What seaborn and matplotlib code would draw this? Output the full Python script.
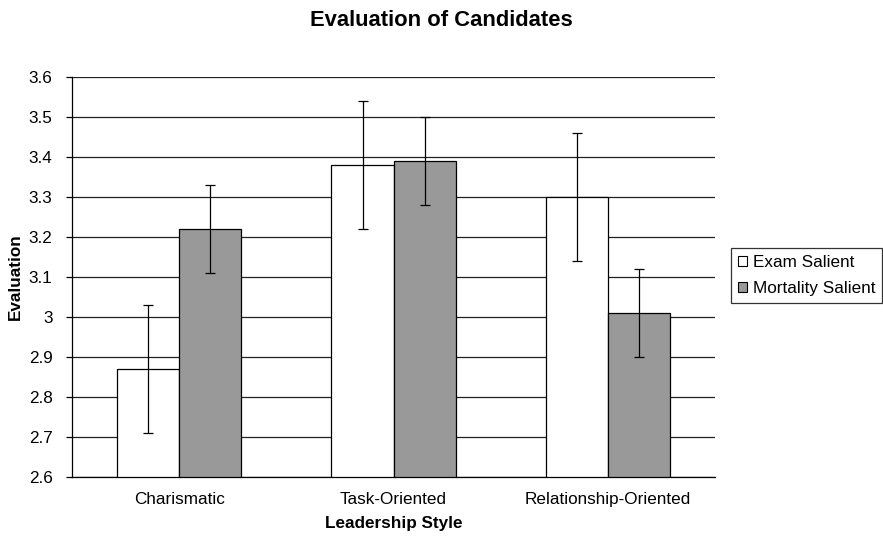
import numpy as np
import pandas as pd
import matplotlib
matplotlib.use("Agg")
import matplotlib.pyplot as plt
import seaborn as sns

# data
styles = ["Charismatic", "Task-Oriented", "Relationship-Oriented"]
conditions = ["Exam Salient", "Mortality Salient"]
exam_vals = [2.87, 3.38, 3.30]
mort_vals = [3.22, 3.39, 3.01]
exam_err = [0.16, 0.16, 0.16]
mort_err = [0.11, 0.11, 0.11]
ytick_labels = ["2.6", "2.7", "2.8", "2.9", "3", "3.1", "3.2", "3.3", "3.4", "3.5", "3.6"]
colors = ["#ffffff", "#999999"]

sns.set_style("white")
plt.rcParams["font.family"] = ["Liberation Sans", "DejaVu Sans"]
plt.rcParams.update({"text.color": "black", "axes.labelcolor": "black",
                     "xtick.color": "black", "ytick.color": "black"})

df = pd.DataFrame({
    "style": styles * 2,
    "condition": [conditions[0]] * 3 + [conditions[1]] * 3,
    "value": exam_vals + mort_vals,
})

fig = plt.figure(figsize=(8.83, 5.43), dpi=100)
ax = fig.add_axes([0.0815, 0.1215, 0.7285, 0.7365])
ax.set_axisbelow(True)
ax.yaxis.grid(True, color="#222222", lw=0.9)

sns.barplot(data=df, x="style", y="value", hue="condition", order=styles,
            hue_order=conditions, palette=colors, width=0.58, errorbar=None,
            edgecolor="black", linewidth=0.9, ax=ax, legend=True)

# error bars from bar positions
errs = [exam_err, mort_err]
for cont, err in zip(ax.containers, errs):
    xs = [p.get_x() + p.get_width() / 2 for p in cont.patches]
    ys = [p.get_y() + p.get_height() for p in cont.patches]
    ax.errorbar(xs, ys, yerr=err, fmt="none", ecolor="black", elinewidth=0.9,
                capsize=3.3, capthick=0.9, zorder=5)

ax.set_ylim(2.6, 3.6)
ax.set_xlim(-0.5, 2.5)
ax.set_yticks(np.arange(2.6, 3.61, 0.1))
ax.set_yticklabels(ytick_labels)
ax.set_xticks(range(3))
ax.set_xticklabels(styles)
ax.set_xticks([-0.5, 0.5, 1.5, 2.5], minor=True)
ax.tick_params(axis="x", which="major", length=0, pad=11, labelsize=12.3)
ax.tick_params(axis="x", which="minor", length=4, width=0.9, color="black", direction="out")
ax.tick_params(axis="y", length=4, width=0.9, color="black", direction="out",
               labelsize=12.3, left=True, pad=10)

for s in ["top", "right"]:
    ax.spines[s].set_visible(False)
for s in ["left", "bottom"]:
    ax.spines[s].set_color("black")
    ax.spines[s].set_linewidth(0.9)

ax.set_xlabel("Leadership Style", fontsize=12.3, fontweight="bold", labelpad=6)
ax.set_ylabel("Evaluation", fontsize=12.3, fontweight="bold", labelpad=4)
fig.text(0.5, 1 - 26 / 543, "Evaluation of Candidates", fontsize=15.8,
         fontweight="bold", ha="center", va="baseline")

ax.get_legend().remove()
handles = [plt.Rectangle((0, 0), 1, 1, facecolor=c, edgecolor="black", lw=0.8) for c in colors]
leg = fig.legend(handles, conditions, loc="upper left", bbox_to_anchor=(0.828, 0.543),
                 fontsize=12.3, frameon=True, fancybox=False, handlelength=0.53,
                 handleheight=0.53, handletextpad=0.35, borderpad=0.4, labelspacing=0.65,
                 borderaxespad=0)
leg.get_frame().set_edgecolor("black")
leg.get_frame().set_linewidth(0.9)

fig.savefig("out.png", dpi=100)
